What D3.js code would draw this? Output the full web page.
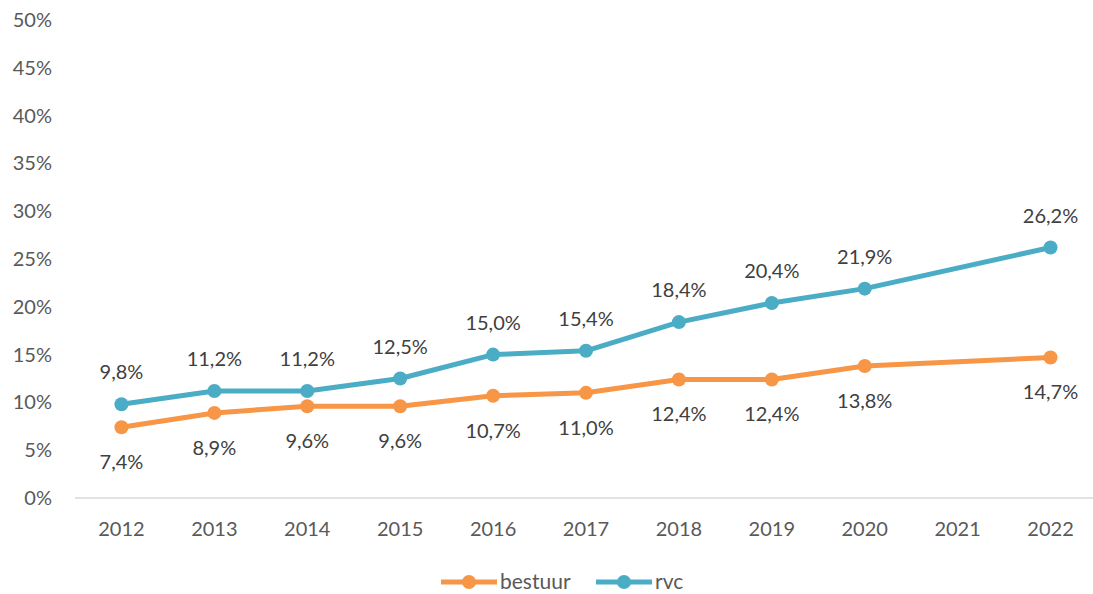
<!DOCTYPE html>
<html>
<head>
<meta charset="utf-8">
<script src="https://cdn.jsdelivr.net/npm/d3@7"></script>
<style>
  body { margin: 0; background: #fff; }
  text { font-family: Lato, "Open Sans", sans-serif; fill: #595959; }
</style>
</head>
<body>
<div id="container"></div>
<script>
const width = 1093,
      height = 594,
      margin = { top: 20, bottom: 96, left: 75, right: -4 };

const years = ["2012", "2013", "2014", "2015", "2016", "2017", "2018", "2019", "2020", "2021", "2022"];
const bestuur = [7.4, 8.9, 9.6, 9.6, 10.7, 11.0, 12.4, 12.4, 13.8, null, 14.7];
const rvc = [9.8, 11.2, 11.2, 12.5, 15.0, 15.4, 18.4, 20.4, 21.9, null, 26.2];
const yTicks = [0, 5, 10, 15, 20, 25, 30, 35, 40, 45, 50];

const series = [
    { name: "bestuur", values: bestuur, color: "#F79646", labelDy: 42 },
    { name: "rvc", values: rvc, color: "#4BACC6", labelDy: -25 }
];

const fmt = v => v.toFixed(1).replace(".", ",") + "%";

var svg = d3.select("#container").append("svg")
    .attr("width", width)
    .attr("height", height);

var x = d3.scaleBand()
    .domain(years)
    .range([margin.left, width - margin.right]);

var y = d3.scaleLinear()
    .domain([0, 50])
    .range([height - margin.bottom, margin.top]);

// y tick labels (no gridlines)
svg.append("g")
    .selectAll("text")
    .data(yTicks)
    .enter().append("text")
    .attr("x", 52)
    .attr("y", d => y(d))
    .attr("dy", "0.35em")
    .attr("text-anchor", "end")
    .style("font-size", "20px")
    .text(d => d + "%");

// x axis line
svg.append("line")
    .attr("x1", margin.left)
    .attr("x2", width - margin.right)
    .attr("y1", y(0))
    .attr("y2", y(0))
    .attr("stroke", "#d9d9d9")
    .attr("stroke-width", 1.5);

svg.append("g")
    .selectAll("text")
    .data(years)
    .enter().append("text")
    .attr("x", d => x(d) + x.bandwidth() / 2)
    .attr("y", y(0) + 38)
    .attr("text-anchor", "middle")
    .style("font-size", "20px")
    .text(d => d);

const cx = i => x(years[i]) + x.bandwidth() / 2;

series.forEach(function(s) {
    var pts = s.values.map((v, i) => ({ v: v, i: i })).filter(d => d.v !== null);

    var line = d3.line()
        .x(d => cx(d.i))
        .y(d => y(d.v));

    svg.append("path")
        .datum(pts)
        .attr("d", line)
        .attr("fill", "none")
        .attr("stroke", s.color)
        .attr("stroke-width", 5)
        .attr("stroke-linejoin", "round");

    svg.append("g")
        .selectAll("circle")
        .data(pts)
        .enter().append("circle")
        .attr("cx", d => cx(d.i))
        .attr("cy", d => y(d.v))
        .attr("r", 7)
        .attr("fill", s.color);

    svg.append("g")
        .selectAll("text")
        .data(pts)
        .enter().append("text")
        .attr("x", d => cx(d.i))
        .attr("y", d => y(d.v) + s.labelDy)
        .attr("text-anchor", "middle")
        .style("font-size", "20px")
        .style("fill", "#404040")
        .text(d => fmt(d.v));
});

// legend
var legend = svg.append("g")
    .attr("transform", "translate(441, 582)");

series.forEach(function(s, k) {
    var g = legend.append("g").attr("transform", `translate(${k * 155}, 0)`);
    g.append("line")
        .attr("x1", 0).attr("x2", 56)
        .attr("y1", 0).attr("y2", 0)
        .attr("stroke", s.color)
        .attr("stroke-width", 5);
    g.append("circle")
        .attr("cx", 28).attr("cy", 0)
        .attr("r", 7)
        .attr("fill", s.color);
    g.append("text")
        .attr("x", 59)
        .attr("y", 0)
        .attr("dy", "0.35em")
        .style("font-size", "21px")
        .text(s.name);
});
</script>
</body>
</html>
